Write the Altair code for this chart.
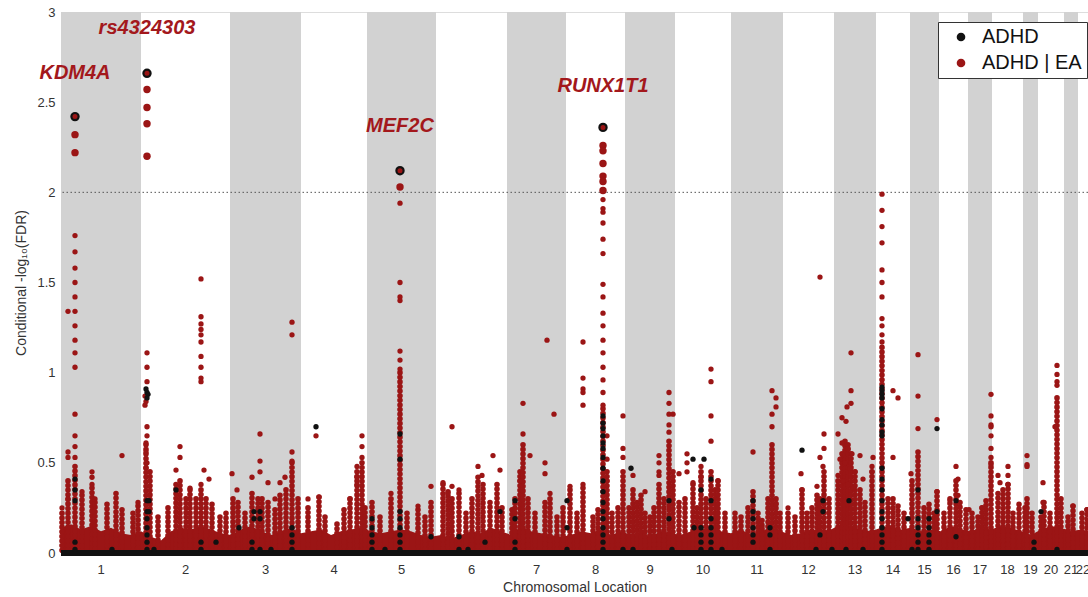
import altair as alt
import pandas as pd

RED = "#9b1515"
BLACK = "#111111"
GRAY = "#d2d2d2"
FONT = "Liberation Sans"

# chromosome boundaries along the cumulative genome position axis
chrom_names = ["1", "2", "3", "4", "5", "6", "7", "8", "9", "10", "11",
               "12", "13", "14", "15", "16", "17", "18", "19", "20", "21", "22"]
chrom_bounds = [0, 80, 169, 240, 306, 375, 446, 505, 564, 614, 670, 722,
                773, 815, 849, 878, 907, 931, 962, 977, 1003, 1017, 1027]

# dense bulk of SNPs near zero (upper envelope)
mass_pos = [0, 10, 20, 30, 40, 50, 60, 70, 80, 90,
            100, 110, 120, 130, 140, 150, 160, 170, 180, 190,
            200, 210, 220, 230, 240, 250, 260, 270, 280, 290,
            300, 310, 320, 330, 340, 350, 360, 370, 380, 390,
            400, 410, 420, 430, 440, 450, 460, 470, 480, 490,
            500, 510, 520, 530, 540, 550, 560, 570, 580, 590,
            600, 610, 620, 630, 640, 650, 660, 670, 680, 690,
            700, 710, 720, 730, 740, 750, 760, 770, 780, 790,
            800, 810, 820, 830, 840, 850, 860, 870, 880, 890,
            900, 910, 920, 930, 940, 950, 960, 970, 980, 990,
            1000, 1010, 1020, 1027]
mass_top = [0.14, 0.16, 0.13, 0.15, 0.12, 0.14, 0.11, 0.10, 0.12, 0.09,
            0.07, 0.12, 0.14, 0.13, 0.15, 0.13, 0.11, 0.10, 0.13, 0.15,
            0.12, 0.10, 0.12, 0.14, 0.11, 0.12, 0.13, 0.10, 0.12, 0.13,
            0.14, 0.12, 0.11, 0.12, 0.13, 0.12, 0.10, 0.09, 0.10, 0.08,
            0.10, 0.12, 0.11, 0.14, 0.12, 0.10, 0.15, 0.12, 0.11, 0.10,
            0.09, 0.10, 0.12, 0.11, 0.13, 0.10, 0.12, 0.10, 0.11, 0.09,
            0.12, 0.11, 0.10, 0.12, 0.13, 0.14, 0.12, 0.11, 0.13, 0.10,
            0.12, 0.14, 0.12, 0.10, 0.11, 0.13, 0.12, 0.13, 0.16, 0.15,
            0.13, 0.12, 0.14, 0.15, 0.13, 0.14, 0.12, 0.13, 0.12, 0.15,
            0.13, 0.12, 0.14, 0.13, 0.15, 0.14, 0.12, 0.10, 0.13, 0.15,
            0.14, 0.12, 0.13, 0.12]

# densely stacked SNP columns (position, top value), ADHD | EA
col_points = [
    (1, 0.22), (7, 0.40), (14, 0.48), (21, 0.32), (31, 0.36), (34, 0.28), (46, 0.27), (55, 0.33), (61, 0.24), (72, 0.22), (77, 0.26),
    (85, 0.60), (89, 0.45), (97, 0.20), (107, 0.25), (115, 0.38), (119, 0.40), (125, 0.30), (129, 0.35), (135, 0.30), (140, 0.35), (145, 0.30), (151, 0.27), (159, 0.20), (165, 0.22),
    (172, 0.30), (177, 0.28), (184, 0.22), (191, 0.33), (197, 0.30), (201, 0.30), (207, 0.28), (214, 0.24), (219, 0.32), (225, 0.35), (231, 0.50), (237, 0.30),
    (247, 0.25), (258, 0.31), (264, 0.20), (276, 0.16), (283, 0.24), (289, 0.30), (296, 0.45), (301, 0.50), (304, 0.25),
    (311, 0.28), (319, 0.20), (330, 0.30), (339, 1.00), (346, 0.22), (357, 0.24), (364, 0.20), (370, 0.28),
    (382, 0.38), (387, 0.34), (391, 0.30), (398, 0.33), (405, 0.22), (411, 0.30), (417, 0.42), (422, 0.38), (429, 0.28), (436, 0.38), (441, 0.25),
    (451, 0.24), (454, 0.30), (459, 0.45), (462, 0.60), (467, 0.30), (474, 0.22), (484, 0.28), (489, 0.30), (496, 0.20), (502, 0.25),
    (509, 0.35), (516, 0.22), (522, 0.36), (532, 0.20), (537, 0.24), (542, 0.80), (546, 0.45), (551, 0.22), (557, 0.25), (562, 0.45),
    (568, 0.25), (572, 0.35), (576, 0.28), (580, 0.32), (584, 0.22), (589, 0.20), (593, 0.25), (598, 0.38), (603, 0.30), (608, 0.62), (612, 0.45),
    (618, 0.28), (624, 0.30), (632, 0.38), (636, 0.25), (640, 0.45), (645, 0.30), (650, 0.45), (654, 0.35), (657, 0.40), (664, 0.22),
    (674, 0.22), (680, 0.20), (687, 0.25), (692, 0.34), (697, 0.22), (701, 0.18), (707, 0.30), (711, 0.60), (715, 0.30), (719, 0.22),
    (727, 0.22), (734, 0.20), (741, 0.35), (746, 0.22), (751, 0.25), (756, 0.32), (759, 0.30), (763, 0.45), (768, 0.30),
    (777, 0.40), (781, 0.55), (784, 0.62), (787, 0.60), (790, 0.55), (794, 0.45), (799, 0.35), (804, 0.28), (811, 0.45),
    (821, 1.14), (827, 0.30), (832, 0.30), (837, 0.26), (843, 0.22),
    (851, 0.40), (857, 0.56), (863, 0.25), (868, 0.27), (873, 0.22), (876, 0.34),
    (883, 0.22), (889, 0.30), (895, 0.40), (899, 0.28), (905, 0.24),
    (911, 0.22), (917, 0.20), (921, 0.25), (925, 0.29), (930, 0.50),
    (937, 0.33), (942, 0.35), (947, 0.38), (952, 0.22), (958, 0.27),
    (964, 0.25), (966, 0.30), (971, 0.22),
    (980, 0.20), (983, 0.28), (989, 0.22), (996, 0.86), (1000, 0.30),
    (1007, 0.20), (1012, 0.26),
    (1021, 0.22), (1026, 0.24),
]

# individual ADHD | EA points
red_points = [
    (14, 1.76), (14, 1.67), (14, 1.58), (14, 1.50), (14, 1.42), (14, 1.34), (14, 1.26), (14, 1.18), (14, 1.11), (14, 1.03),
    (7, 1.34), (14, 0.77), (14, 0.65), (14, 0.59), (14, 0.53), (7, 0.56), (7, 0.53), (31, 0.45), (31, 0.42), (31, 0.38),
    (61, 0.54), (34, 0.30), (1, 0.25), (21, 0.34), (77, 0.28), (7, 0.30),
    (86, 1.11), (86, 1.03), (86, 0.95), (84, 0.87), (84, 0.82), (85, 0.84), (86, 0.70), (86, 0.65), (85, 0.61), (85, 0.56),
    (86, 0.50), (85, 0.47), (140, 1.52), (140, 1.31), (140, 1.27), (140, 1.24), (140, 1.21), (140, 1.17), (140, 1.09),
    (140, 1.03), (140, 0.97), (140, 0.95), (143, 0.46), (148, 0.41), (140, 0.38), (119, 0.59), (119, 0.53), (115, 0.46),
    (129, 0.36), (171, 0.44),
    (191, 0.42), (199, 0.66), (199, 0.51), (199, 0.45), (207, 0.39), (219, 0.39), (224, 0.42), (231, 1.28), (231, 1.21),
    (176, 0.35), (214, 0.30), (231, 0.56), (231, 0.51),
    (255, 0.65), (301, 0.65), (301, 0.59), (301, 0.53), (296, 0.48), (296, 0.42), (296, 0.38), (247, 0.30), (258, 0.31), (289, 0.30),
    (339, 1.94), (339, 1.50), (339, 1.42), (339, 1.40), (339, 1.12), (339, 1.07), (339, 1.02), (330, 0.33), (370, 0.37), (357, 0.26),
    (391, 0.70), (382, 0.39), (391, 0.37), (398, 0.35), (417, 0.48), (421, 0.43), (432, 0.54), (439, 0.46), (387, 0.33),
    (462, 0.83), (462, 0.66), (469, 0.54), (486, 1.18), (484, 0.50), (484, 0.44), (493, 0.77), (489, 0.33), (509, 0.37), (459, 0.40),
    (546, 0.65), (546, 0.52), (546, 0.40), (522, 1.17), (522, 0.97), (522, 0.91), (522, 0.89), (522, 0.82), (522, 0.38),
    (562, 0.76), (562, 0.58), (562, 0.53), (542, 1.96), (542, 1.91), (542, 1.89), (542, 1.83), (542, 1.74), (542, 1.66),
    (542, 1.49), (542, 1.42), (542, 1.33), (542, 1.26), (542, 1.18), (542, 1.11), (542, 1.03), (542, 0.96), (542, 0.89), (542, 0.82),
    (598, 0.54), (598, 0.50), (598, 0.45), (598, 0.43), (608, 0.89), (608, 0.83), (608, 0.77), (612, 0.77), (608, 0.71),
    (608, 0.67), (618, 0.44), (572, 0.43), (584, 0.34),
    (626, 0.55), (626, 0.50), (626, 0.45), (632, 0.39), (640, 0.48), (640, 0.42), (650, 1.02), (650, 0.95), (650, 0.76), (650, 0.62), (657, 0.40),
    (692, 0.56), (711, 0.90), (715, 0.86), (715, 0.81), (711, 0.77), (711, 0.70), (715, 0.27), (727, 0.25), (701, 0.14),
    (740, 0.44), (741, 0.35), (756, 0.37), (759, 1.53), (763, 0.66), (763, 0.58), (759, 0.53), (762, 0.48),
    (790, 1.11), (790, 0.90), (790, 0.83), (786, 0.81), (781, 0.75), (785, 0.73), (777, 0.66), (781, 0.61), (787, 0.58),
    (791, 0.55), (779, 0.52), (784, 0.50), (789, 0.47), (794, 0.45), (777, 0.43), (782, 0.40), (787, 0.38), (792, 0.36),
    (799, 0.54), (802, 0.41), (812, 0.53), (811, 0.48), (811, 0.45),
    (821, 1.99), (821, 1.90), (821, 1.81), (821, 1.72), (821, 1.57), (821, 1.50), (821, 1.42), (821, 1.30), (821, 1.26),
    (821, 1.21), (821, 1.17), (832, 0.90), (837, 0.86), (832, 0.53),
    (857, 1.10), (857, 0.87), (857, 0.69), (850, 0.44), (876, 0.74), (876, 0.34),
    (895, 0.48), (897, 0.41), (897, 0.32), (889, 0.29), (908, 0.24),
    (930, 0.88), (930, 0.76), (930, 0.71), (930, 0.70), (930, 0.65), (930, 0.58), (930, 0.53), (930, 0.49), (921, 0.25),
    (937, 0.43), (939, 0.39), (947, 0.48), (947, 0.43), (947, 0.38),
    (966, 0.54), (966, 0.49), (966, 0.48),
    (982, 0.39), (982, 0.28), (996, 1.04), (996, 0.99), (996, 0.95), (996, 0.93), (994, 0.70),
    (1012, 0.26), (1026, 0.24),
]

# individual ADHD points
black_points = [
    (14, 0.41), (14, 0.35), (14, 0.29), (14, 0.06), (14, 0.02), (51, 0.02),
    (85, 0.91), (86, 0.89), (87, 0.88), (86, 0.86), (86, 0.29), (88, 0.29), (86, 0.23), (88, 0.23), (86, 0.19), (86, 0.14),
    (86, 0.10), (86, 0.06), (86, 0.02), (93, 0.02), (115, 0.35), (140, 0.06), (140, 0.02), (155, 0.06),
    (193, 0.23), (199, 0.23), (193, 0.19), (199, 0.19), (178, 0.14), (191, 0.06), (191, 0.02), (199, 0.02), (210, 0.02),
    (231, 0.14), (231, 0.10), (231, 0.06), (231, 0.02),
    (255, 0.70),
    (311, 0.19), (311, 0.14), (311, 0.10), (311, 0.06), (311, 0.02), (324, 0.02), (339, 0.66), (339, 0.52), (339, 0.23),
    (339, 0.19), (339, 0.14), (339, 0.10), (339, 0.06), (339, 0.02), (370, 0.09),
    (398, 0.09), (398, 0.02), (407, 0.02), (424, 0.06), (439, 0.23),
    (454, 0.29), (454, 0.19), (454, 0.06), (454, 0.02), (506, 0.29), (506, 0.14), (506, 0.02),
    (542, 0.76), (542, 0.72), (542, 0.69), (542, 0.65), (542, 0.61), (542, 0.58), (542, 0.53), (542, 0.47), (542, 0.40),
    (542, 0.34), (542, 0.28), (542, 0.23), (542, 0.19), (542, 0.14), (542, 0.10), (542, 0.06), (542, 0.02), (562, 0.02),
    (570, 0.47), (572, 0.02),
    (608, 0.29), (608, 0.19), (611, 0.02),
    (632, 0.52), (643, 0.52), (640, 0.35), (640, 0.14), (640, 0.10), (640, 0.06), (640, 0.02), (650, 0.41), (650, 0.29),
    (650, 0.19), (650, 0.14), (650, 0.10), (650, 0.06), (650, 0.02), (633, 0.14), (661, 0.02),
    (692, 0.29), (692, 0.23), (692, 0.19), (692, 0.14), (692, 0.10), (692, 0.06), (709, 0.14), (709, 0.10), (709, 0.02),
    (741, 0.57), (762, 0.29), (762, 0.23), (759, 0.10), (755, 0.02), (771, 0.02),
    (788, 0.29), (785, 0.02), (802, 0.02),
    (821, 0.92), (821, 0.90), (821, 0.88), (821, 0.86), (821, 0.80), (821, 0.74), (821, 0.71), (821, 0.67), (821, 0.65),
    (821, 0.47), (821, 0.41), (821, 0.35), (821, 0.29), (821, 0.23), (821, 0.19), (821, 0.14), (821, 0.10), (821, 0.06),
    (821, 0.02), (851, 0.02),
    (857, 0.35), (857, 0.19), (857, 0.14), (857, 0.10), (857, 0.06), (857, 0.02), (847, 0.19), (868, 0.19), (868, 0.14),
    (868, 0.10), (868, 0.06), (868, 0.02), (876, 0.69), (876, 0.23),
    (895, 0.29), (895, 0.09),
    (973, 0.06), (973, 0.02),
    (980, 0.23), (996, 0.02),
]

# genome-wide significant ADHD | EA hits (large markers)
big_points = [(14, 2.32), (14, 2.22), (86, 2.57), (86, 2.47), (86, 2.38), (86, 2.20), (339, 2.03),
              (542, 2.26), (542, 2.23), (542, 2.16), (542, 2.09), (542, 2.06), (542, 2.01)]
lead_points = [(14, 2.42), (86, 2.66), (339, 2.12), (542, 2.36)]

gene_labels = ["KDM4A", "rs4324303", "MEF2C", "RUNX1T1"]
gene_pos = [14, 86, 339, 542]
gene_val = [2.66, 2.91, 2.37, 2.59]

threshold = 2.0
y_ticks = [0, 0.5, 1, 1.5, 2, 2.5, 3]

# ---------------------------------------------------------------- frames
bands_df = pd.DataFrame({
    "start": [chrom_bounds[i] for i in range(0, 22, 2)],
    "end": [chrom_bounds[i + 1] for i in range(0, 22, 2)],
})
centers_df = pd.DataFrame({
    "pos": [(chrom_bounds[i] + chrom_bounds[i + 1]) / 2 for i in range(22)],
    "label": chrom_names,
})
mass_df = pd.DataFrame({"pos": mass_pos, "val": mass_top})
col_df = pd.DataFrame(col_points, columns=["pos", "val"])
pts_df = pd.concat([
    pd.DataFrame(red_points, columns=["pos", "val"]).assign(series="ADHD | EA"),
    pd.DataFrame(black_points, columns=["pos", "val"]).assign(series="ADHD"),
], ignore_index=True)
big_df = pd.DataFrame(big_points, columns=["pos", "val"])
lead_df = pd.DataFrame(lead_points, columns=["pos", "val"])
lab_df = pd.DataFrame({"pos": gene_pos, "val": gene_val, "label": gene_labels})

xscale = alt.Scale(domain=[chrom_bounds[0], chrom_bounds[-1]], nice=False, zero=False)
yscale = alt.Scale(domain=[0, 3], nice=False, zero=True)

X_AXIS = alt.Axis(title="Chromosomal Location", labels=False, ticks=False, domain=False,
                  grid=False, titleFontSize=14, titleFontWeight="normal",
                  titleColor="#333", titleFont=FONT, titlePadding=27)
Y_AXIS = alt.Axis(values=y_ticks, format="~g", ticks=False, domain=False,
                  grid=False, labelFontSize=13, labelColor="#333", labelFont=FONT,
                  labelPadding=6, title="Conditional -log\u2081\u2080(FDR)", titleFontSize=14,
                  titleFontWeight="normal", titleColor="#333", titleFont=FONT,
                  titlePadding=8)


def X(field):
    return alt.X(field, scale=xscale, axis=X_AXIS)


def Y(field):
    return alt.Y(field, scale=yscale, axis=Y_AXIS)


bands = alt.Chart(bands_df).mark_rect(color=GRAY).encode(x=X("start:Q"), x2="end:Q")

thresh = alt.Chart(pd.DataFrame({"val": [threshold]})).mark_rule(
    color="#555", strokeDash=[1.5, 2.5], strokeWidth=1
).encode(y=Y("val:Q"))

mass = alt.Chart(mass_df).mark_area(color=RED, opacity=1).encode(
    x=X("pos:Q"), y=Y("val:Q"), y2=alt.datum(0),
)

# columns drawn as stacks of touching dots (zero-length dashes with round caps)
cols = alt.Chart(col_df).mark_rule(color=RED, strokeWidth=5.6, strokeCap="round",
                                   strokeDash=[0.01, 4.6]).encode(
    x=X("pos:Q"), y=Y("val:Q"), y2=alt.datum(0),
)

baseline = alt.Chart(pd.DataFrame({"val": [0]})).mark_rule(color=BLACK, strokeWidth=6).encode(
    y=Y("val:Q")
)

pts = alt.Chart(pts_df).mark_circle(size=28, opacity=1).encode(
    x=X("pos:Q"),
    y=Y("val:Q"),
    color=alt.Color("series:N",
                    scale=alt.Scale(domain=["ADHD", "ADHD | EA"], range=[BLACK, RED]),
                    legend=alt.Legend(title=None, orient="none", legendX=877, legendY=10,
                                      fillColor="white", strokeColor="#333", padding=5,
                                      symbolOffset=8, labelOffset=11, labelFontSize=20,
                                      labelFont=FONT, labelColor="#111", symbolSize=75,
                                      symbolType="circle", rowPadding=6, cornerRadius=0,
                                      symbolOpacity=1)),
)

big = alt.Chart(big_df).mark_circle(size=55, opacity=1, color=RED).encode(
    x=X("pos:Q"), y=Y("val:Q"),
)

lead = alt.Chart(lead_df).mark_point(size=52, filled=True, fill=RED, stroke=BLACK,
                                     strokeWidth=2.2, opacity=1, shape="circle").encode(
    x=X("pos:Q"), y=Y("val:Q"),
)

labels = alt.Chart(lab_df).mark_text(font=FONT, fontSize=20, fontWeight="bold", fontStyle="italic",
                                     color="#a3181c", align="center", baseline="middle").encode(
    x=X("pos:Q"), y=Y("val:Q"), text="label:N",
)

ticks = alt.Chart(centers_df).mark_text(font=FONT, fontSize=13, color="#333",
                                        align="center", baseline="middle").encode(
    x=X("pos:Q"), y=alt.value(558), text="label:N",
)

chart = alt.layer(bands, thresh, mass, cols, baseline, pts, big, lead, labels, ticks).properties(
    width=1027, height=541,
    autosize=alt.AutoSizeParams(type="none"),
    padding={"left": 61, "top": 12, "right": 0, "bottom": 44},
).configure_view(stroke=None).configure(font=FONT)

chart.save("out.html", embed_options={"renderer": "svg", "actions": False})
